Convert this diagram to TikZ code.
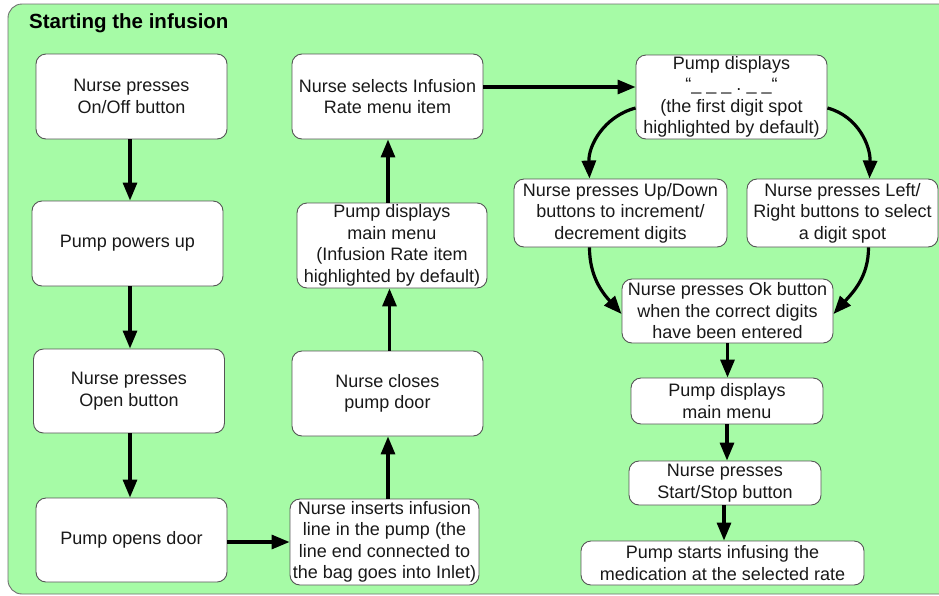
\documentclass[tikz,border=0pt]{standalone}
\usepackage{fontspec}
\setmainfont{Liberation Sans}
\usetikzlibrary{arrows.meta}
\definecolor{bggreen}{HTML}{A6FBA6}
\definecolor{boxline}{HTML}{555555}
\definecolor{frameline}{HTML}{707070}
\begin{document}
\begin{tikzpicture}[x=1pt,y=-1pt,
  stepbox/.style={draw=boxline, fill=white, rounded corners=10pt, line width=0.9pt,
    align=center, inner sep=0pt, text=black!90, font=\fontsize{18}{21.5}\selectfont},
  flow/.style={line width=3.2pt, -{Triangle[length=18pt,width=14pt]}}]
\useasboundingbox (0,0) rectangle (939,595);
\clip (0,0) rectangle (939,595);
\fill[white] (0,0) rectangle (939,595);
\draw[draw=frameline, fill=bggreen, line width=0.9pt, rounded corners=14pt] (8,4) rectangle (970,594);
\node[anchor=west, inner sep=0pt, font=\bfseries\fontsize{20.5}{24}\selectfont] (title) at (29,23) {Starting the infusion};

\node[stepbox, minimum width=191pt, minimum height=85pt] (A) at (131.5,96.5) {Nurse presses\\On/Off button};
\node[stepbox, minimum width=191pt, minimum height=85pt] (B) at (127.5,243.5) {Pump powers up};
\node[stepbox, minimum width=191pt, minimum height=84pt] (C) at (129,391) {Nurse presses\\Open button};
\node[stepbox, minimum width=191pt, minimum height=84pt] (D) at (131.5,540) {Pump opens door};
\node[stepbox, minimum width=189pt, minimum height=86pt] (E) at (384.5,542) {Nurse inserts infusion\\line in the pump (the\\line end connected to\\the bag goes into Inlet)};
\node[stepbox, minimum width=191pt, minimum height=85pt] (F) at (387.5,393.5) {Nurse closes\\pump door};
\node[stepbox, minimum width=190pt, minimum height=85pt] (G) at (392,245.5) {Pump displays\\main menu\\(Infusion Rate item\\highlighted by default)};
\node[stepbox, minimum width=191pt, minimum height=85pt] (H) at (387.5,96.5) {Nurse selects Infusion\\Rate menu item};
\node[stepbox, minimum width=191pt, minimum height=84pt] (I) at (731.5,97) {Pump displays\\“\_\ \_\ \_\ .\ \_\ \_“\\(the first digit spot\\highlighted by default)};
\node[stepbox, minimum width=213pt, minimum height=68pt] (J) at (620.5,213) {Nurse presses Up/Down\\buttons to increment/\\decrement digits};
\node[stepbox, minimum width=191pt, minimum height=68pt] (K) at (842.5,213) {Nurse presses Left/\\Right buttons to select\\a digit spot};
\node[stepbox, minimum width=211pt, minimum height=64pt] (L) at (727.5,311) {Nurse presses Ok button\\when the correct digits\\have been entered};
\node[stepbox, minimum width=192pt, minimum height=46pt] (M) at (727,401) {Pump displays\\main menu};
\node[stepbox, minimum width=192pt, minimum height=44pt] (N) at (725,483) {Nurse presses\\Start/Stop button};
\node[stepbox, minimum width=283pt, minimum height=44pt] (O) at (722.5,563) {Pump starts infusing the\\medication at the selected rate};

\draw[flow] ([xshift=-1.5pt]A.south) -- ([xshift=-1.5pt]A.south |- B.north);
\draw[flow] ([xshift=2.5pt]B.south) -- ([xshift=2.5pt]B.south |- C.north);
\draw[flow] ([xshift=1pt]C.south) -- ([xshift=1pt]C.south |- D.north);
\draw[flow] ([yshift=-2pt]D.east) -- ([yshift=-2pt]D.east -| E.west);
\draw[flow] ([xshift=3.5pt]E.north) -- ([xshift=3.5pt]E.north |- F.south);
\draw[flow] ([xshift=2pt]F.north) -- ([xshift=2pt]F.north |- G.south);
\draw[flow] ([xshift=-4pt]G.north) -- ([xshift=-4pt]G.north |- H.south);
\draw[flow] ([yshift=9.5pt]H.east) -- ([yshift=9.5pt]H.east -| I.west);
\draw[flow] ([yshift=-11pt]I.west) to[out=195,in=92] ([xshift=-31pt]J.north);
\draw[flow] ([yshift=-11pt]I.east) to[out=-15,in=88] ([xshift=27pt]K.north);
\draw[flow] ([xshift=-31pt]J.south) to[out=-90,in=132] ([yshift=-3pt]L.west);
\draw[flow] ([xshift=26pt]K.south) to[out=-90,in=48] ([yshift=-3pt]L.east);
\draw[flow] (L.south) -- (L.south |- M.north);
\draw[flow] (M.south) -- (M.south |- N.north);
\draw[flow] ([xshift=-1pt]N.south) -- ([xshift=-1pt]N.south |- O.north);
\end{tikzpicture}
\end{document}
